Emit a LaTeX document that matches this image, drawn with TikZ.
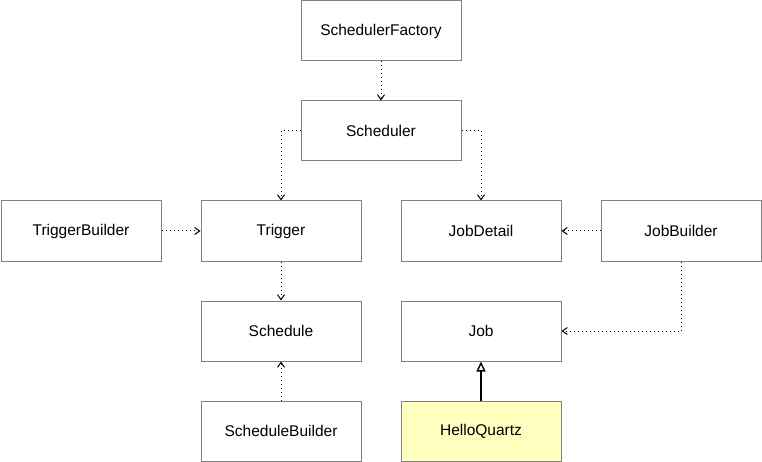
\documentclass[tikz,border=0pt]{standalone}
\usepackage{fontspec}
\setmainfont{Liberation Sans}
\usetikzlibrary{arrows.meta}

\definecolor{boxline}{HTML}{808080}
\definecolor{hellofill}{HTML}{FFFFC0}

\tikzset{
  cls/.style={draw=boxline, line width=1pt, fill=white, minimum width=160pt,
    minimum height=60pt, inner sep=0pt, font=\fontsize{15.5}{18}\selectfont},
  uses/.style={dash pattern=on 1pt off 3pt, line width=1pt,
    -{Straight Barb[length=5pt,width=7pt]}},
  extends/.style={line width=2pt, -{Triangle[open,length=10pt,width=9pt,line width=1.4pt]}}
}

\begin{document}
\begin{tikzpicture}[x=1pt,y=-1pt]
    \useasboundingbox (0,0) rectangle (762,462);

    \node[cls] (factory) at (381,31) {SchedulerFactory};
    \node[cls] (scheduler) at (381,131) {Scheduler};

    \node[cls] (triggerbuilder) at (81,231) {TriggerBuilder};
    \node[cls] (trigger) at (281,231) {Trigger};
    \node[cls] (jobdetail) at (481,231) {JobDetail};
    \node[cls] (jobbuilder) at (681,231) {JobBuilder};

    \node[cls] (schedule) at (281,331) {Schedule};
    \node[cls] (job) at (481,331) {Job};

    \node[cls] (schedulebuilder) at (281,431) {ScheduleBuilder};
    \node[cls, fill=hellofill] (hello) at (481,431) {HelloQuartz};

    \draw[uses] (factory) -- (scheduler);
    \draw[uses] (scheduler.west) -| (trigger.north);
    \draw[uses] (scheduler.east) -| (jobdetail.north);
    \draw[uses] (triggerbuilder) -- (trigger);
    \draw[uses] (jobbuilder) -- (jobdetail);
    \draw[uses] (trigger) -- (schedule);
    \draw[uses] (schedulebuilder) -- (schedule);
    \draw[uses] (jobbuilder.south) |- (job.east);

    \draw[extends] (hello) -- (job);
\end{tikzpicture}
\end{document}
